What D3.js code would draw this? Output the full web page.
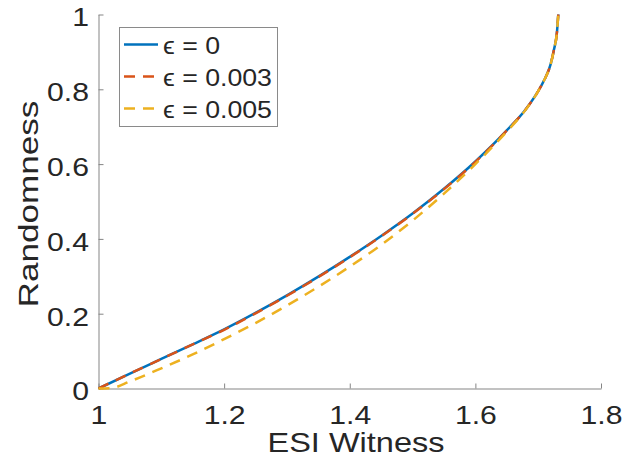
<!DOCTYPE html>
<html>
<head>
<meta charset="utf-8">
<script src="https://cdn.jsdelivr.net/npm/d3@7"></script>
<style>
  html, body { margin: 0; padding: 0; background: #fff; }
  svg { display: block; }
  text { font-family: "Liberation Sans", Arial, Helvetica, sans-serif; fill: #262626; }
</style>
</head>
<body>
<svg id="chart" width="643" height="467"></svg>
<script>
// ---- data ----
const xEps0   = [1.00, 1.05, 1.10, 1.15, 1.20, 1.25, 1.30, 1.35, 1.40, 1.45, 1.50, 1.55, 1.60, 1.65, 1.68, 1.70, 1.71, 1.72, 1.725, 1.73, 1.732];
const yEps0   = [0.000, 0.040, 0.079, 0.118, 0.158, 0.202, 0.249, 0.299, 0.352, 0.408, 0.468, 0.534, 0.607, 0.690, 0.746, 0.795, 0.826, 0.868, 0.905, 0.955, 1.000];
const xEps003 = [1.00, 1.05, 1.10, 1.15, 1.20, 1.25, 1.30, 1.35, 1.40, 1.45, 1.50, 1.55, 1.60, 1.65, 1.68, 1.70, 1.71, 1.72, 1.725, 1.73, 1.732];
const yEps003 = [0.000, 0.040, 0.079, 0.118, 0.157, 0.201, 0.248, 0.298, 0.351, 0.407, 0.467, 0.533, 0.606, 0.690, 0.746, 0.795, 0.826, 0.868, 0.905, 0.955, 1.000];
const xEps005 = [1.00, 1.02, 1.05, 1.10, 1.15, 1.20, 1.25, 1.30, 1.35, 1.40, 1.45, 1.50, 1.55, 1.60, 1.65, 1.68, 1.70, 1.71, 1.72, 1.725, 1.73, 1.732];
const yEps005 = [0.000, 0.001, 0.019, 0.054, 0.091, 0.132, 0.175, 0.222, 0.272, 0.326, 0.384, 0.449, 0.521, 0.600, 0.687, 0.745, 0.795, 0.826, 0.868, 0.905, 0.955, 1.000];
const seriesNames = ["\u03F5 = 0", "\u03F5 = 0.003", "\u03F5 = 0.005"];
const xTickValues = [1, 1.2, 1.4, 1.6, 1.8];
const xTickLabels = ["1", "1.2", "1.4", "1.6", "1.8"];
const yTickValues = [0, 0.2, 0.4, 0.6, 0.8, 1];
const yTickLabels = ["0", "0.2", "0.4", "0.6", "0.8", "1"];
const xLabel = "ESI Witness";
const yLabel = "Randomness";

// ---- layout / style ----
const colors = ["#0072BD", "#D95319", "#EDB120"];
const dashes = [null, "11,8", "11,8"];
const plotLeft = 98.5, plotRight = 601, plotTop = 14.5, plotBottom = 388.5;
const widen = 1.16;

const svg = d3.select("#chart");
const x = d3.scaleLinear().domain([1, 1.8]).range([plotLeft, plotRight]);
const y = d3.scaleLinear().domain([0, 1]).range([plotBottom, plotTop]);

function stretch(sel, f) {
  sel.each(function() {
    const w = this.getComputedTextLength();
    d3.select(this).attr("textLength", w * f).attr("lengthAdjust", "spacingAndGlyphs");
  });
}

// axes (inward ticks, no box)
const axisColor = "#858585";
const xAxis = d3.axisBottom(x).tickValues(xTickValues).tickSize(-5).tickSizeOuter(0)
  .tickFormat((d, i) => xTickLabels[i]);
const yAxis = d3.axisLeft(y).tickValues(yTickValues).tickSize(-5).tickSizeOuter(0)
  .tickFormat((d, i) => yTickLabels[i]);

const gx = svg.append("g").attr("transform", `translate(0,${plotBottom})`).call(xAxis);
const gy = svg.append("g").attr("transform", `translate(${plotLeft},0)`).call(yAxis);
[gx, gy].forEach(g => {
  g.select(".domain").attr("stroke", axisColor).attr("stroke-width", 1);
  g.selectAll(".tick line").attr("stroke", axisColor).attr("stroke-width", 1);
  g.selectAll(".tick text").attr("fill", "#262626")
    .style("font-family", '"Liberation Sans", Arial, sans-serif').style("font-size", "26px");
});
gx.selectAll(".tick text").attr("y", 0).attr("dy", 0).attr("transform", "translate(0,35.5)");
gy.selectAll(".tick text").attr("x", -9.5).attr("dy", "0.36em").attr("transform", "translate(0,2)");
stretch(gx.selectAll(".tick text"), widen);
stretch(gy.selectAll(".tick text"), widen);

// axis labels
svg.append("text").attr("x", 356).attr("y", 452).attr("text-anchor", "middle")
  .style("font-size", "28px").text(xLabel)
  .call(s => stretch(s, widen));
svg.append("text").attr("transform", `translate(37.5,204) rotate(-90)`).attr("text-anchor", "middle")
  .style("font-size", "27px").text(yLabel)
  .call(s => stretch(s, 1.3));

// lines
const series = [
  { xs: xEps0, ys: yEps0 },
  { xs: xEps003, ys: yEps003 },
  { xs: xEps005, ys: yEps005 }
];
const line = d3.line().x(d => x(d[0])).y(d => y(d[1])).curve(d3.curveMonotoneX);
series.forEach((s, i) => {
  const pts = s.xs.map((v, k) => [v, s.ys[k]]);
  svg.append("path").datum(pts).attr("d", line)
    .attr("fill", "none").attr("stroke", colors[i]).attr("stroke-width", 2.5)
    .attr("stroke-dasharray", dashes[i]);
});

// legend
const lg = svg.append("g");
lg.append("rect").attr("x", 119.5).attr("y", 27.5).attr("width", 158).attr("height", 99)
  .attr("fill", "#fff").attr("stroke", "#8a8a8a").attr("stroke-width", 1);
const rowY = [44.5, 76.5, 108.5];
seriesNames.forEach((name, i) => {
  lg.append("line").attr("x1", 124).attr("x2", 158).attr("y1", rowY[i]).attr("y2", rowY[i])
    .attr("stroke", colors[i]).attr("stroke-width", 2.5)
    .attr("stroke-dasharray", dashes[i]);
  lg.append("text").attr("x", 163).attr("y", rowY[i] + 9.5)
    .style("font-size", "23px").text(name)
    .call(s => stretch(s, widen));
});
</script>
</body>
</html>
